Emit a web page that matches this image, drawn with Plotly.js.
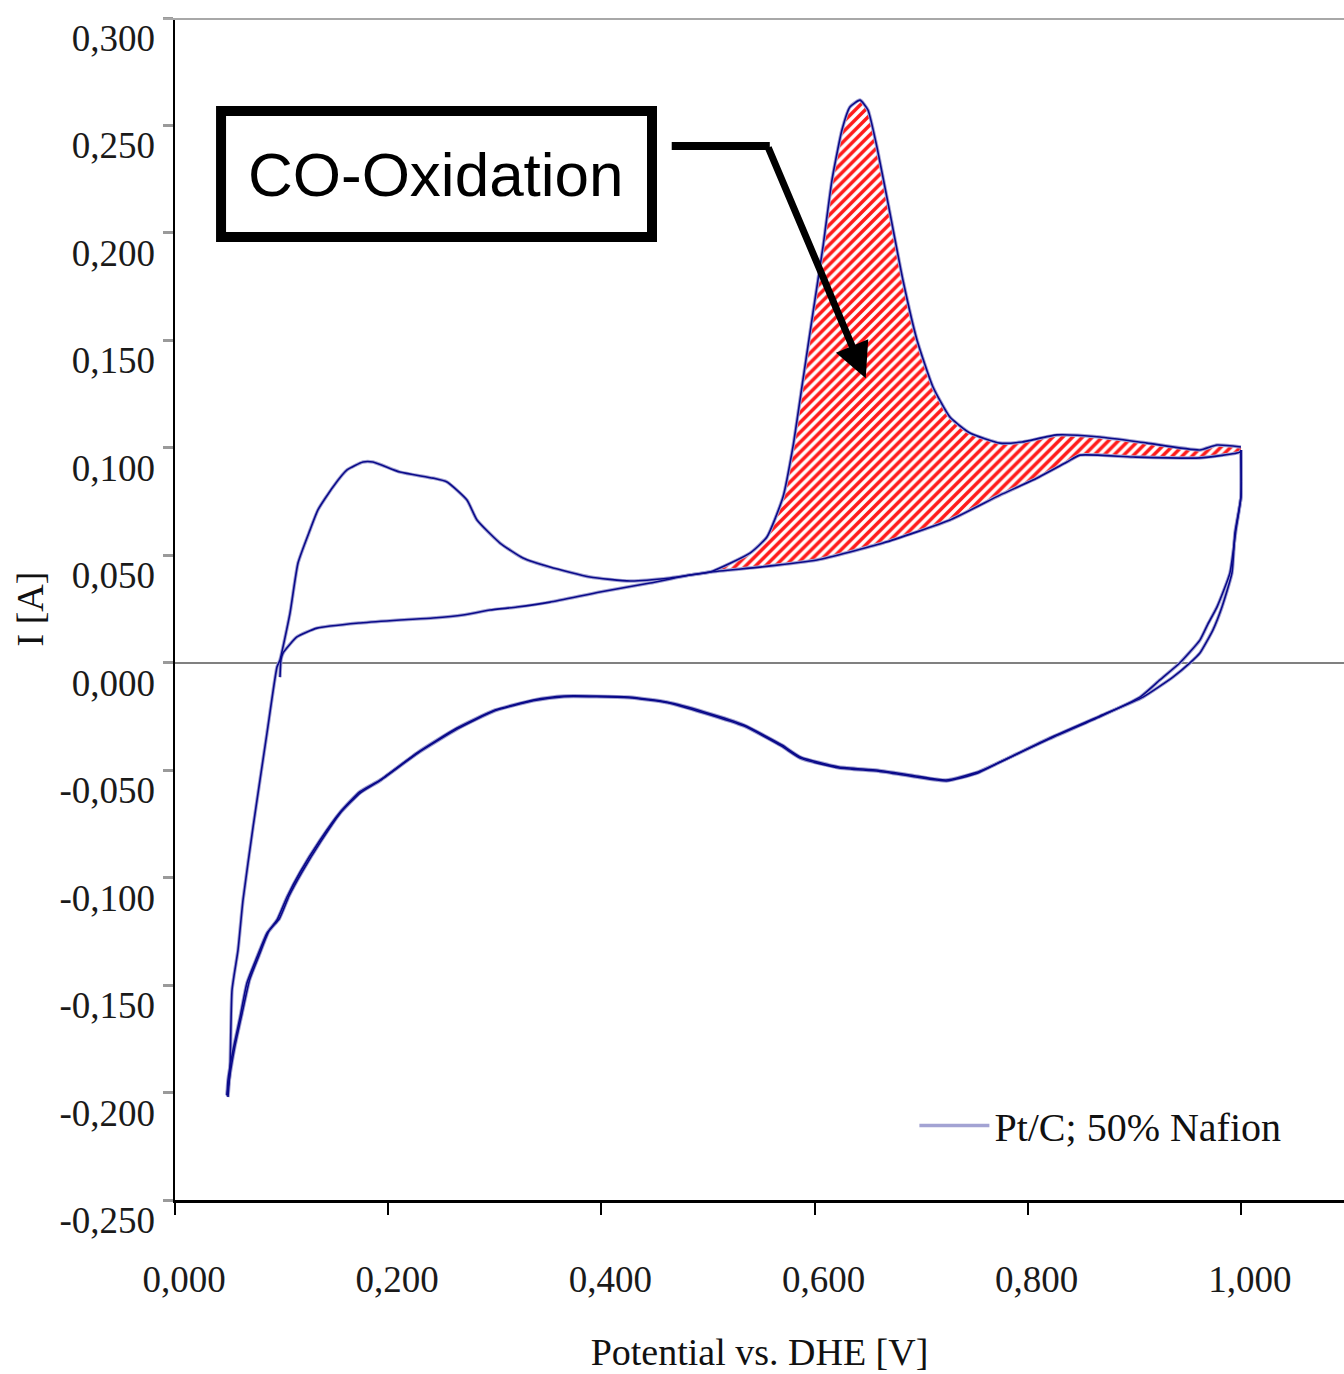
<!DOCTYPE html>
<html>
<head>
<meta charset="utf-8">
<script src="https://cdn.plot.ly/plotly-3.0.1.min.js"></script>
<style>
  html, body { margin: 0; padding: 0; background: #ffffff; }
  #chart { width: 1344px; height: 1374px; }
</style>
</head>
<body>
<div id="chart"></div>
<script>
// ---- Data ----
// Second (clean Pt) anodic scan: potential [V] and current [A]
const anodicCleanV = [0.0497,0.0516,0.0535,0.0591,0.0638,0.0732,0.0863,0.0957,0.0985,0.1079,0.1154,0.1266,0.1341,0.1482,0.1614,0.1764,0.1857,0.2111,0.2420,0.2552,0.2739,0.2833,0.3049,0.3265,0.3518,0.3893,0.4268,0.4644,0.5019,0.5488,0.6023,0.6642,0.7270,0.7739,0.8049,0.8368,0.8490,0.8987,0.9615,0.9991,1.0000];
const anodicCleanI = [-0.2021,-0.1895,-0.1523,-0.1337,-0.1104,-0.0765,-0.0327,-0.0020,0.0013,0.0231,0.0464,0.0617,0.0711,0.0818,0.0897,0.0934,0.0934,0.0887,0.0859,0.0841,0.0757,0.0664,0.0557,0.0487,0.0445,0.0399,0.0380,0.0394,0.0422,0.0445,0.0478,0.0557,0.0664,0.0780,0.0850,0.0934,0.0966,0.0957,0.0953,0.0980,0.0990];

// First anodic scan with adsorbed CO (CO stripping)
const anodicCOV = [0.0985,0.0994,0.1013,0.1144,0.1332,0.1735,0.2111,0.2420,0.2702,0.2955,0.3208,0.3518,0.3987,0.4456,0.4831,0.5019,0.5394,0.5553,0.5704,0.5797,0.5891,0.5985,0.6079,0.6163,0.6257,0.6332,0.6426,0.6501,0.6585,0.6707,0.6829,0.6961,0.7111,0.7270,0.7458,0.7739,0.7946,0.8274,0.8677,0.9118,0.9615,0.9775,1.0000];
const anodicCOI = [-0.0067,0.0013,0.0045,0.0120,0.0161,0.0185,0.0199,0.0208,0.0222,0.0245,0.0259,0.0282,0.0329,0.0371,0.0408,0.0422,0.0510,0.0585,0.0771,0.1004,0.1316,0.1628,0.1935,0.2245,0.2479,0.2586,0.2618,0.2572,0.2400,0.2093,0.1781,0.1502,0.1283,0.1143,0.1069,0.1022,0.1027,0.1060,0.1050,0.1022,0.0990,0.1013,0.1004];

// Cathodic scans (two nearly overlapping cycles)
const cathodic1V = [1.0000,1.0000,0.9944,0.9916,0.9822,0.9737,0.9615,0.9522,0.9362,0.9081,0.8677,0.8208,0.7739,0.7523,0.7233,0.6951,0.6595,0.6229,0.5872,0.5694,0.5338,0.4972,0.4615,0.4259,0.3649,0.3358,0.3002,0.2645,0.2280,0.1923,0.1735,0.1548,0.1360,0.1173,0.1051,0.0957,0.0863,0.0769,0.0675,0.0610,0.0544,0.0497,0.0488];
const cathodic1I = [0.0990,0.0771,0.0604,0.0418,0.0259,0.0152,0.0045,-0.0001,-0.0067,-0.0160,-0.0248,-0.0350,-0.0462,-0.0510,-0.0546,-0.0527,-0.0500,-0.0485,-0.0440,-0.0383,-0.0290,-0.0230,-0.0183,-0.0160,-0.0155,-0.0174,-0.0220,-0.0304,-0.0416,-0.0546,-0.0600,-0.0696,-0.0826,-0.0975,-0.1090,-0.1197,-0.1258,-0.1370,-0.1490,-0.1650,-0.1803,-0.1943,-0.2013];
const cathodic2V = [1.0000,1.0000,0.9953,0.9897,0.9775,0.9690,0.9615,0.9428,0.9240,0.9053,0.8660,0.8200,0.7730,0.7520,0.7240,0.6950,0.6600,0.6230,0.5870,0.5690,0.5340,0.4970,0.4620,0.4260,0.3650,0.3360,0.3000,0.2650,0.2280,0.1920,0.1740,0.1550,0.1370,0.1190,0.1070,0.0980,0.0880,0.0790,0.0700,0.0630,0.0560,0.0510,0.0488];
const cathodic2I = [0.0990,0.0771,0.0617,0.0418,0.0259,0.0180,0.0105,0.0000,-0.0080,-0.0160,-0.0255,-0.0355,-0.0465,-0.0515,-0.0550,-0.0532,-0.0505,-0.0490,-0.0445,-0.0388,-0.0295,-0.0235,-0.0186,-0.0163,-0.0158,-0.0177,-0.0224,-0.0308,-0.0420,-0.0550,-0.0605,-0.0700,-0.0830,-0.0975,-0.1085,-0.1190,-0.1250,-0.1360,-0.1475,-0.1630,-0.1790,-0.1935,-0.2013];

// Onset of the shaded CO-oxidation area [V]
const coAreaStartV = 0.50;

// Tick labels
const xTickVals = [0, 0.2, 0.4, 0.6, 0.8, 1.0];
const xTickText = ['0,000', '0,200', '0,400', '0,600', '0,800', '1,000'];
const yTickVals = [-0.25, -0.2, -0.15, -0.1, -0.05, 0, 0.05, 0.1, 0.15, 0.2, 0.25, 0.3];
const yTickText = ['-0,250', '-0,200', '-0,150', '-0,100', '-0,050', '0,000', '0,050', '0,100', '0,150', '0,200', '0,250', '0,300'];

const seriesName = 'Pt/C; 50% Nafion';
const annotationText = 'CO-Oxidation';
const xTitle = 'Potential vs. DHE [V]';
const yTitle = 'I [A]';

// ---- Build the shaded CO-oxidation polygon from the two anodic scans ----
const polyV = [], polyI = [];
anodicCOV.forEach((v, i) => { if (v >= coAreaStartV) { polyV.push(v); polyI.push(anodicCOI[i]); } });
for (let i = anodicCleanV.length - 1; i >= 0; i--) {
  if (anodicCleanV[i] >= coAreaStartV) { polyV.push(anodicCleanV[i]); polyI.push(anodicCleanI[i]); }
}

const serif = 'Liberation Serif, Times New Roman, serif';
const halo = '#a3a3d3';
const core = '#0a0a8a';
const smooth = 0.5;

function curve(v, i, color, width, showLegend) {
  return {
    x: v, y: i, type: 'scatter', mode: 'lines',
    line: { color: color, width: width, shape: 'spline', smoothing: smooth },
    name: seriesName, showlegend: !!showLegend, hoverinfo: 'skip'
  };
}

const traces = [
  {
    x: polyV, y: polyI, type: 'scatter', mode: 'lines', fill: 'toself',
    line: { width: 0, color: 'rgba(0,0,0,0)', shape: 'spline', smoothing: smooth },
    fillcolor: '#ffffff',
    fillpattern: { shape: '/', fgcolor: '#ff1a1a', bgcolor: '#ffffff', size: 7, solidity: 0.5 },
    showlegend: false, hoverinfo: 'skip'
  },
  curve(anodicCleanV, anodicCleanI, halo, 3.5, true),
  curve(anodicCOV, anodicCOI, halo, 3.5),
  curve(cathodic1V, cathodic1I, halo, 3.5),
  curve(cathodic2V, cathodic2I, halo, 3.5),
  curve(anodicCleanV, anodicCleanI, core, 1.6),
  curve(anodicCOV, anodicCOI, core, 1.6),
  curve(cathodic1V, cathodic1I, core, 1.6),
  curve(cathodic2V, cathodic2I, core, 1.6)
];

const layout = {
  width: 1344, height: 1374,
  margin: { l: 175, r: 0, t: 18, b: 174, pad: 0 },
  paper_bgcolor: '#ffffff', plot_bgcolor: '#ffffff',
  font: { family: serif, color: '#1a1a1a' },
  showlegend: true,
  legend: {
    x: 0.6325, xanchor: 'left', y: 0.063, yanchor: 'middle',
    bgcolor: 'rgba(0,0,0,0)', borderwidth: 0,
    font: { family: serif, size: 40, color: '#111111' },
    itemwidth: 70
  },
  xaxis: {
    range: [0, 1.0967], fixedrange: true,
    tickmode: 'array', tickvals: xTickVals, ticktext: xTickText,
    ticks: 'outside', ticklen: 12, tickwidth: 2, tickcolor: '#000000',
    showline: true, linecolor: '#000000', linewidth: 2.5,
    showgrid: false, zeroline: false,
    tickfont: { family: serif, size: 37, color: '#1a1a1a' },
    ticklabelstandoff: 33, ticklabelshift: 9,
    title: { text: xTitle, font: { family: serif, size: 38, color: '#111111' }, standoff: 40 }
  },
  yaxis: {
    range: [-0.25, 0.3], fixedrange: true,
    tickmode: 'array', tickvals: yTickVals, ticktext: yTickText,
    ticks: 'outside', ticklen: 10, tickwidth: 3, tickcolor: '#9a9a9a',
    showline: true, linecolor: '#000000', linewidth: 2.5,
    showgrid: false,
    zeroline: true, zerolinecolor: '#808080', zerolinewidth: 2,
    tickfont: { family: serif, size: 37, color: '#1a1a1a' },
    ticklabelstandoff: 0, ticklabelshift: 20,
    title: { text: yTitle, font: { family: serif, size: 38, color: '#111111' }, standoff: 4 }
  },
  shapes: [
    // gray top frame line
    { type: 'line', xref: 'paper', yref: 'y', x0: -0.01, x1: 1, y0: 0.3, y1: 0.3,
      line: { color: '#a8a8a8', width: 4 } },
    // annotation box
    { type: 'rect', xref: 'x', yref: 'y', x0: 0.0432, x1: 0.4475, y0: 0.1981, y1: 0.2567,
      line: { color: '#000000', width: 10 }, fillcolor: '#ffffff' },
    // horizontal part of the leader arrow
    { type: 'line', xref: 'x', yref: 'y', x0: 0.466, x1: 0.558, y0: 0.2404, y1: 0.2404,
      line: { color: '#000000', width: 8 } }
  ],
  annotations: [
    { xref: 'x', yref: 'y', x: 0.245, y: 0.2273, text: annotationText, showarrow: false,
      font: { family: 'Liberation Sans, Arial, sans-serif', size: 62, color: '#000000' },
      xanchor: 'center', yanchor: 'middle' },
    { xref: 'x', yref: 'y', x: 0.648, y: 0.1324, axref: 'x', ayref: 'y', ax: 0.556, ay: 0.2404,
      text: '', showarrow: true, arrowhead: 2, arrowsize: 1, arrowwidth: 7, arrowcolor: '#000000',
      standoff: 0, startstandoff: 0 }
  ]
};

Plotly.newPlot('chart', traces, layout, { staticPlot: true, displayModeBar: false });
</script>
</body>
</html>
